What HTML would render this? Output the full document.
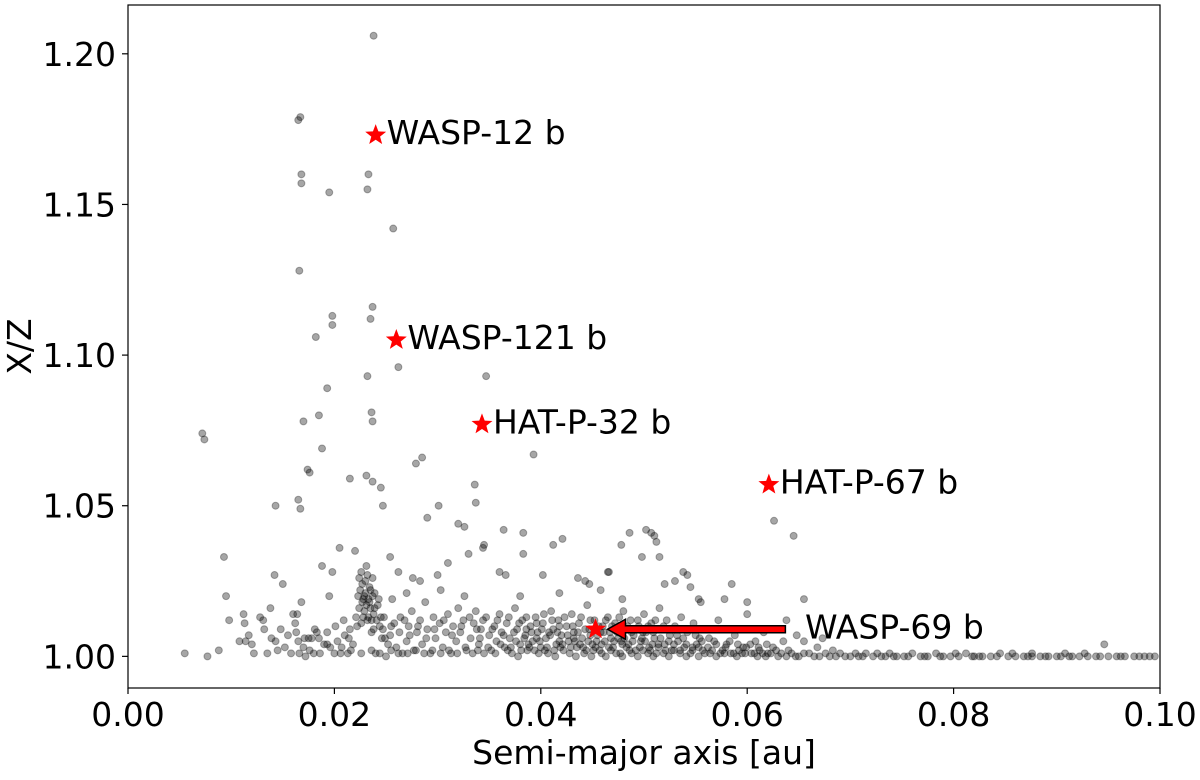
<!DOCTYPE html>
<html><head><meta charset="utf-8"><style>
html,body{margin:0;padding:0;background:#fff;}
svg text{font-family:"DejaVu Sans","Liberation Sans",sans-serif;fill:#000;}
</style></head><body>
<svg id="chart" width="1200" height="775" xmlns="http://www.w3.org/2000/svg">
<g id="points"></g>
<g id="stars"></g>
<g id="axes"></g>
</svg>
<script>
const xTicks=[0,0.02,0.04,0.06,0.08,0.10];
const xTickLabels=["0.00","0.02","0.04","0.06","0.08","0.10"];
const yTicks=[1.00,1.05,1.10,1.15,1.20];
const yTickLabels=["1.00","1.05","1.10","1.15","1.20"];
const highlightNames=["WASP-12 b","WASP-121 b","HAT-P-32 b","HAT-P-67 b","WASP-69 b"];
const highlightA=[0.0240,0.0260,0.0343,0.0621,0.0453];
const highlightXZ=[1.173,1.105,1.077,1.057,1.009];
const outlierPoints=[[0.0238,1.206],[0.0165,1.178],[0.0167,1.179],[0.0168,1.160],[0.0168,1.157],[0.0195,1.154],[0.0233,1.160],[0.0232,1.155],[0.0257,1.142],[0.0166,1.128],[0.0198,1.113],[0.0198,1.110],[0.0237,1.116],[0.0235,1.112],[0.0182,1.106],[0.0262,1.096],[0.0232,1.093],[0.0193,1.089],[0.0185,1.080],[0.0170,1.078],[0.0236,1.081],[0.0072,1.074],[0.0074,1.072],[0.0188,1.069],[0.0174,1.062],[0.0176,1.061],[0.0285,1.066],[0.0279,1.064],[0.0393,1.067],[0.0231,1.060],[0.0237,1.058],[0.0215,1.059],[0.0143,1.050],[0.0165,1.052],[0.0167,1.049],[0.0245,1.056],[0.0247,1.050],[0.0301,1.050],[0.0336,1.057],[0.0337,1.051],[0.0290,1.046],[0.0320,1.044],[0.0326,1.043],[0.0364,1.042],[0.0383,1.041],[0.0421,1.039],[0.0237,1.078],[0.0347,1.093]];
const bandPoints=[[0.0055,1.001],[0.0077,1.000],[0.0088,1.002],[0.0093,1.033],[0.0095,1.020],[0.0098,1.012],[0.0108,1.005],[0.0112,1.014],[0.0113,1.011],[0.0114,1.005],[0.0117,1.007],[0.0120,1.004],[0.0128,1.013],[0.0132,1.009],[0.0138,1.016],[0.0142,1.027],[0.0143,1.005],[0.0145,1.002],[0.0148,1.009],[0.0150,1.024],[0.0155,1.007],[0.0158,1.001],[0.0160,1.014],[0.0162,1.011],[0.0163,1.008],[0.0165,1.005],[0.0168,1.018],[0.0170,1.003],[0.0172,1.000],[0.0175,1.006],[0.0178,1.006],[0.0180,1.001],[0.0183,1.008],[0.0185,1.006],[0.0188,1.030],[0.0190,1.004],[0.0193,1.004],[0.0195,1.020],[0.0198,1.028],[0.0200,1.001],[0.0203,1.005],[0.0205,1.036],[0.0207,1.003],[0.0210,1.007],[0.0213,1.001],[0.0215,1.009],[0.0218,1.004],[0.0220,1.035],[0.0222,1.010],[0.0224,1.016],[0.0225,1.022],[0.0226,1.028],[0.0227,1.018],[0.0228,1.013],[0.0229,1.020],[0.0230,1.025],[0.0231,1.030],[0.0232,1.012],[0.0233,1.019],[0.0234,1.023],[0.0235,1.016],[0.0236,1.008],[0.0237,1.026],[0.0238,1.014],[0.0239,1.021],[0.0240,1.001],[0.0242,1.017],[0.0244,1.010],[0.0246,1.006],[0.0248,1.013],[0.0250,1.000],[0.0252,1.004],[0.0254,1.007],[0.0256,1.019],[0.0258,1.011],[0.0260,1.003],[0.0263,1.008],[0.0266,1.001],[0.0268,1.012],[0.0270,1.005],[0.0272,1.010],[0.0275,1.015],[0.0277,1.002],[0.0280,1.008],[0.0283,1.012],[0.0285,1.004],[0.0288,1.018],[0.0290,1.009],[0.0293,1.001],[0.0296,1.013],[0.0298,1.006],[0.0300,1.027],[0.0302,1.011],[0.0305,1.003],[0.0308,1.008],[0.0310,1.014],[0.0313,1.001],[0.0315,1.010],[0.0318,1.005],[0.0320,1.016],[0.0322,1.008],[0.0325,1.012],[0.0328,1.002],[0.0330,1.034],[0.0332,1.006],[0.0335,1.011],[0.0337,1.015],[0.0340,1.004],[0.0342,1.009],[0.0345,1.001],[0.0347,1.013],[0.0350,1.007],[0.0352,1.002],[0.0355,1.010],[0.0357,1.005],[0.0360,1.014],[0.0362,1.008],[0.0365,1.003],[0.0367,1.011],[0.0370,1.006],[0.0372,1.001],[0.0375,1.016],[0.0377,1.009],[0.0380,1.004],[0.0382,1.012],[0.0385,1.007],[0.0387,1.002],[0.0390,1.010],[0.0392,1.005],[0.0395,1.013],[0.0397,1.008],[0.0400,1.003],[0.0402,1.011],[0.0405,1.006],[0.0407,1.001],[0.0410,1.015],[0.0412,1.009],[0.0415,1.004],[0.0417,1.012],[0.0420,1.007],[0.0422,1.002],[0.0425,1.010],[0.0427,1.005],[0.0430,1.014],[0.0432,1.008],[0.0435,1.003],[0.0437,1.011],[0.0440,1.006],[0.0442,1.001],[0.0445,1.017],[0.0447,1.009],[0.0450,1.004],[0.0452,1.012],[0.0455,1.007],[0.0457,1.002],[0.0460,1.010],[0.0462,1.005],[0.0465,1.013],[0.0467,1.008],[0.0470,1.003],[0.0472,1.011],[0.0475,1.006],[0.0477,1.001],[0.0480,1.015],[0.0482,1.009],[0.0485,1.004],[0.0487,1.012],[0.0490,1.007],[0.0492,1.002],[0.0495,1.010],[0.0497,1.005],[0.0500,1.014],[0.0502,1.008],[0.0505,1.003],[0.0507,1.011],[0.0510,1.006],[0.0512,1.001],[0.0515,1.016],[0.0517,1.009],[0.0520,1.004],[0.0522,1.012],[0.0525,1.007],[0.0527,1.002],[0.0530,1.010],[0.0533,1.005],[0.0536,1.013],[0.0539,1.003],[0.0542,1.008],[0.0545,1.001],[0.0548,1.011],[0.0551,1.004],[0.0554,1.006],[0.0557,1.002],[0.0560,1.009],[0.0564,1.001],[0.0568,1.005],[0.0572,1.012],[0.0576,1.002],[0.0580,1.004],[0.0584,1.001],[0.0588,1.007],[0.0592,1.002],[0.0596,1.003],[0.0600,1.014],[0.0604,1.001],[0.0608,1.005],[0.0612,1.002],[0.0616,1.008],[0.0620,1.001],[0.0625,1.003],[0.0630,1.000],[0.0635,1.005],[0.0640,1.002]];
const densePoints=[[0.0356,1.001],[0.0368,1.002],[0.0378,1.000],[0.0388,1.004],[0.0398,1.001],[0.0404,1.002],[0.0414,1.000],[0.0419,1.003],[0.0428,1.001],[0.0434,1.000],[0.0438,1.004],[0.0444,1.002],[0.0449,1.000],[0.0453,1.003],[0.0459,1.001],[0.0463,1.000],[0.0468,1.002],[0.0473,1.001],[0.0479,1.000],[0.0483,1.003],[0.0488,1.001],[0.0494,1.000],[0.0499,1.002],[0.0504,1.001],[0.0509,1.000],[0.0514,1.003],[0.0519,1.001],[0.0524,1.000],[0.0529,1.002],[0.0535,1.001],[0.0541,1.000],[0.0547,1.002],[0.0553,1.000],[0.0562,1.003],[0.0570,1.000],[0.0578,1.001],[0.0590,1.000],[0.0598,1.001],[0.0610,1.000],[0.0618,1.000],[0.0432,1.006],[0.0448,1.007],[0.0458,1.008],[0.0468,1.006],[0.0478,1.005],[0.0488,1.008],[0.0498,1.006],[0.0508,1.004],[0.0418,1.005],[0.0408,1.008],[0.0396,1.006],[0.0386,1.009]];
const corePoints=[[0.0341,1.006],[0.0344,1.012],[0.0349,1.003],[0.0353,1.009],[0.0358,1.012],[0.0361,1.004],[0.0364,1.007],[0.0369,1.013],[0.0371,1.003],[0.0374,1.008],[0.0376,1.005],[0.0379,1.011],[0.0381,1.002],[0.0384,1.006],[0.0386,1.013],[0.0389,1.003],[0.0391,1.008],[0.0394,1.002],[0.0396,1.011],[0.0399,1.005],[0.0401,1.009],[0.0403,1.014],[0.0406,1.003],[0.0409,1.007],[0.0411,1.012],[0.0413,1.002],[0.0416,1.008],[0.0418,1.010],[0.0421,1.004],[0.0423,1.013],[0.0426,1.007],[0.0429,1.003],[0.0431,1.010],[0.0433,1.005],[0.0436,1.008],[0.0439,1.013],[0.0441,1.003],[0.0443,1.009],[0.0446,1.005],[0.0448,1.012],[0.0451,1.002],[0.0454,1.005],[0.0456,1.010],[0.0459,1.004],[0.0461,1.008],[0.0463,1.012],[0.0466,1.003],[0.0469,1.010],[0.0471,1.005],[0.0474,1.008],[0.0476,1.013],[0.0479,1.004],[0.0481,1.006],[0.0484,1.010],[0.0486,1.002],[0.0489,1.005],[0.0491,1.009],[0.0494,1.012],[0.0496,1.003],[0.0499,1.008],[0.0501,1.005],[0.0504,1.010],[0.0506,1.002],[0.0509,1.008],[0.0511,1.012],[0.0514,1.004],[0.0516,1.006],[0.0519,1.010],[0.0521,1.002],[0.0524,1.005],[0.0526,1.009],[0.0529,1.004],[0.0532,1.007],[0.0535,1.002],[0.0538,1.006],[0.0541,1.004],[0.0544,1.009],[0.0547,1.003],[0.0550,1.007],[0.0553,1.003],[0.0556,1.005],[0.0559,1.001],[0.0563,1.006],[0.0566,1.002],[0.0570,1.004],[0.0574,1.001],[0.0579,1.003],[0.0583,1.005],[0.0587,1.001],[0.0591,1.004],[0.0595,1.001],[0.0599,1.003],[0.0603,1.004],[0.0607,1.001],[0.0611,1.003],[0.0615,1.001],[0.0619,1.004],[0.0623,1.001],[0.0628,1.002],[0.0633,1.001],[0.0638,1.000],[0.0643,1.001],[0.0647,1.000]];
const leftDense=[[0.0221,1.013],[0.0223,1.020],[0.0224,1.026],[0.0226,1.011],[0.0227,1.024],[0.0228,1.019],[0.0229,1.015],[0.0230,1.021],[0.0231,1.017],[0.0232,1.027],[0.0233,1.013],[0.0234,1.018],[0.0235,1.022],[0.0236,1.012],[0.0237,1.020],[0.0238,1.009],[0.0239,1.016],[0.0241,1.012],[0.0243,1.019],[0.0245,1.013],[0.0247,1.009],[0.0249,1.006],[0.0122,1.001],[0.0135,1.001],[0.0152,1.003],[0.0166,1.001],[0.0176,1.002],[0.0186,1.001],[0.0196,1.003],[0.0206,1.001],[0.0216,1.002],[0.0226,1.001],[0.0236,1.002],[0.0244,1.001],[0.0255,1.002],[0.0262,1.001],[0.0271,1.001],[0.0279,1.002],[0.0287,1.001],[0.0295,1.002],[0.0303,1.001],[0.0311,1.002],[0.0319,1.001],[0.0327,1.003],[0.0334,1.001],[0.0339,1.002],[0.0193,1.008],[0.0201,1.010],[0.0209,1.012],[0.0214,1.006],[0.0255,1.010],[0.0264,1.013],[0.0273,1.007],[0.0281,1.010],[0.0289,1.006],[0.0297,1.009],[0.0306,1.012],[0.0314,1.007],[0.0323,1.010],[0.0331,1.013],[0.0338,1.009],[0.0164,1.014],[0.0171,1.006],[0.0181,1.009],[0.0131,1.012],[0.0139,1.006]];
const midPoints=[[0.0254,1.033],[0.0262,1.028],[0.0270,1.021],[0.0276,1.026],[0.0283,1.025],[0.0303,1.022],[0.0310,1.031],[0.0326,1.020],[0.0344,1.036],[0.0345,1.037],[0.0360,1.028],[0.0366,1.027],[0.0380,1.020],[0.0383,1.034],[0.0402,1.027],[0.0412,1.037],[0.0418,1.021],[0.0436,1.026],[0.0443,1.025],[0.0447,1.024],[0.0458,1.022],[0.0465,1.028],[0.0466,1.028],[0.0478,1.037],[0.0479,1.019],[0.0486,1.041],[0.0498,1.033],[0.0502,1.042],[0.0507,1.041],[0.0510,1.040],[0.0512,1.038],[0.0515,1.033],[0.0520,1.024],[0.0530,1.025],[0.0538,1.028],[0.0542,1.027],[0.0545,1.023],[0.0553,1.019],[0.0555,1.018],[0.0578,1.019],[0.0585,1.024],[0.0600,1.018],[0.0626,1.045],[0.0645,1.040],[0.0655,1.019],[0.0638,1.012],[0.0648,1.007],[0.0655,1.005],[0.0668,1.003],[0.0673,1.006],[0.0683,1.002]];
const tailPoints=[[0.0650,1.000],[0.0660,1.001],[0.0670,1.000],[0.0680,1.000],[0.0690,1.001],[0.0700,1.000],[0.0708,1.000],[0.0715,1.001],[0.0722,1.000],[0.0730,1.000],[0.0738,1.001],[0.0745,1.000],[0.0752,1.000],[0.0760,1.001],[0.0768,1.000],[0.0775,1.000],[0.0783,1.001],[0.0790,1.000],[0.0797,1.000],[0.0805,1.000],[0.0812,1.001],[0.0820,1.000],[0.0828,1.000],[0.0836,1.000],[0.0845,1.001],[0.0853,1.000],[0.0860,1.000],[0.0868,1.000],[0.0876,1.001],[0.0884,1.000],[0.0892,1.000],[0.0900,1.000],[0.0908,1.001],[0.0915,1.000],[0.0922,1.000],[0.0930,1.000],[0.0938,1.000],[0.0946,1.004],[0.0950,1.000],[0.0958,1.000],[0.0966,1.000],[0.0975,1.000],[0.0985,1.000],[0.0995,1.000],[0.0876,1.000],[0.0818,1.000],[0.0742,1.000],[0.0705,1.001],[0.0655,1.001],[0.0665,1.000],[0.0676,1.001],[0.0686,1.000],[0.0695,1.000],[0.0712,1.000],[0.0726,1.001],[0.0734,1.000],[0.0756,1.000],[0.0772,1.000],[0.0787,1.000],[0.0802,1.001],[0.0825,1.000],[0.0842,1.000],[0.0857,1.001],[0.0872,1.000],[0.0889,1.000],[0.0904,1.000],[0.0912,1.000],[0.0927,1.001],[0.0942,1.000],[0.0962,1.000],[0.0980,1.000],[0.0990,1.000]];

const X0=128,X1=1160,Y0=5,Y1=688;
const xMin=0,xMax=0.10,yMin=0.9895,yMax=1.2162;
function xs(a){return X0+(a-xMin)/(xMax-xMin)*(X1-X0);}
function ys(v){return Y1-(v-yMin)/(yMax-yMin)*(Y1-Y0);}
const NS="http://www.w3.org/2000/svg";
function mk(tag,attrs,parent){const e=document.createElementNS(NS,tag);for(const k in attrs)e.setAttribute(k,attrs[k]);parent.appendChild(e);return e;}

const pg=document.getElementById('points');
[outlierPoints,bandPoints,densePoints,corePoints,leftDense,midPoints,tailPoints].forEach(arr=>arr.forEach(p=>{
  const c=mk('circle',{cx:xs(p[0]),cy:ys(p[1]),r:3.5,fill:'#000','fill-opacity':0.35,stroke:'#000','stroke-opacity':0.3,'stroke-width':1},pg);
  
  
}));

function starPath(cx,cy,R){const r=R*0.42;let d='';for(let i=0;i<10;i++){const ang=-Math.PI/2+i*Math.PI/5;const rr=i%2?r:R;d+=(i?'L':'M')+(cx+rr*Math.cos(ang)).toFixed(2)+','+(cy+rr*Math.sin(ang)).toFixed(2);}return d+'Z';}
const sg=document.getElementById('stars');
{
  const ax=xs(0.0637),ay=ys(highlightXZ[4]),tx=xs(highlightA[4])+12;
  const hw=3.5,hh=10,hl=18;
  const d=`M${ax},${ay-hw}L${tx+hl},${ay-hw}L${tx+hl},${ay-hh}L${tx},${ay}L${tx+hl},${ay+hh}L${tx+hl},${ay+hw}L${ax},${ay+hw}Z`;
  const ar=mk('path',{d:d,fill:'#f00',stroke:'#000','stroke-width':1.5},sg);
  
  
}
highlightNames.forEach((n,i)=>{
  const cx=xs(highlightA[i]),cy=ys(highlightXZ[i]);
  const s=mk('path',{d:starPath(cx,cy,11),fill:'#f00'},sg);
  
  
  const lx=i===4?xs(0.0655)+1:cx+11;
  const t=mk('text',{x:lx,y:cy+9,'font-size':33},sg);
  t.textContent=n;
  
  
});

const ag=document.getElementById('axes');
const fr=mk('rect',{x:X0,y:Y0,width:X1-X0,height:Y1-Y0,fill:'none',stroke:'#000','stroke-width':1.2},ag);


xTicks.forEach((v,i)=>{
  const x=xs(v);
  mk('line',{x1:x,y1:Y1,x2:x,y2:Y1+6,stroke:'#000','stroke-width':1.2},ag);
  const t=mk('text',{x:x,y:Y1+38,'font-size':33,'text-anchor':'middle'},ag);
  t.textContent=xTickLabels[i];
  
  
});
yTicks.forEach((v,i)=>{
  const y=ys(v);
  mk('line',{x1:X0-6,y1:y,x2:X0,y2:y,stroke:'#000','stroke-width':1.2},ag);
  const t=mk('text',{x:X0-12,y:y+12,'font-size':33,'text-anchor':'end'},ag);
  t.textContent=yTickLabels[i];
  
  
});
const xl=mk('text',{x:(X0+X1)/2,y:764,'font-size':33,'text-anchor':'middle'},ag);
xl.textContent='Semi-major axis [au]';


const yl=mk('text',{x:0,y:0,'font-size':33,'text-anchor':'middle',transform:`translate(31,${(Y0+Y1)/2}) rotate(-90)`},ag);
yl.textContent='X/Z';


</script>
</body></html>
